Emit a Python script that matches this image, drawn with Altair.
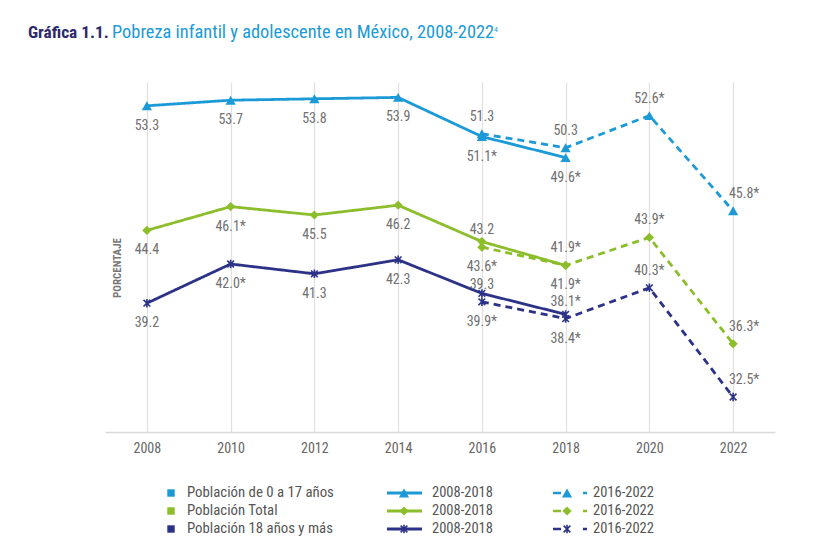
import altair as alt
import pandas as pd

# ---------------- data ----------------
years = [2008, 2010, 2012, 2014, 2016, 2018, 2020, 2022]
groups = ["Población de 0 a 17 años", "Población Total", "Población 18 años y más"]
periods = ["2008-2018", "2016-2022"]
years_old = [2008, 2010, 2012, 2014, 2016, 2018]
years_new = [2016, 2018, 2020, 2022]

child_old = [53.3, 53.7, 53.8, 53.9, 51.1, 49.6]
child_new = [51.3, 50.3, 52.6, 45.8]
total_old = [44.4, 46.1, 45.5, 46.2, 43.6, 41.9]
total_new = [43.2, 41.9, 43.9, 36.3]
adult_old = [39.2, 42.0, 41.3, 42.3, 39.9, 38.4]
adult_new = [39.3, 38.1, 40.3, 32.5]

child_old_sig = ["", "", "", "", "*", "*"]
child_new_sig = ["", "", "*", "*"]
total_old_sig = ["", "*", "", "", "*", "*"]
total_new_sig = ["", "*", "*", "*"]
adult_old_sig = ["", "*", "", "", "*", "*"]
adult_new_sig = ["", "*", "*", "*"]

old_side = ["below"] * 6
new_side = ["above", "above", "above", "aboveright"]

title_bold = "Gráfica 1.1."
title_rest = "Pobreza infantil y adolescente en México, 2008-2022"
title_sup = "4"
y_title = "PORCENTAJE"

# ---------------- styles ----------------
FONT = "Liberation Sans Narrow, Roboto Condensed, DejaVu Sans Condensed, Arial Narrow, sans-serif"
colors = ["#1b9ad7", "#8cbd2b", "#2c3287"]
label_grey = "#707070"
ASTER = "M-1,-1L1,1M-1,1L1,-1M0,-1.25L0,1.25"

series = [
    (groups[0], periods[0], years_old, child_old, child_old_sig, old_side),
    (groups[0], periods[1], years_new, child_new, child_new_sig, new_side),
    (groups[1], periods[0], years_old, total_old, total_old_sig, old_side),
    (groups[1], periods[1], years_new, total_new, total_new_sig, new_side),
    (groups[2], periods[0], years_old, adult_old, adult_old_sig, old_side),
    (groups[2], periods[1], years_new, adult_new, adult_new_sig, new_side),
]
rows = []
for g, p, ys, vs, sg, sd in series:
    for yr, v, s, side in zip(ys, vs, sg, sd):
        rows.append({"group": g, "period": p, "year": yr, "value": v,
                     "label": f"{v:.1f}{s}", "side": side})
df = pd.DataFrame(rows)
df["bottom"] = df.groupby(["group", "year"])["value"].transform("min")

color_scale = alt.Scale(domain=groups, range=colors)
dash_scale = alt.Scale(domain=periods, range=[[1, 0], [7, 5]])

x_enc = alt.X("year:O",
              scale=alt.Scale(type="point", padding=0.5, domain=years),
              axis=alt.Axis(title=None, labelFont=FONT, labelFontSize=14,
                            labelColor="#666666", labelPadding=9, tickSize=0,
                            labelAngle=0, domainColor="#d9d9d9", domainWidth=1.5,
                            grid=True, gridColor="#e0e0e0", gridWidth=1.2))
y_scale = alt.Scale(domain=[30, 55], nice=False, zero=False)

base = alt.Chart(df)

lines = base.mark_line(strokeWidth=2.8).encode(
    x=x_enc,
    y=alt.Y("value:Q", scale=y_scale, axis=None),
    color=alt.Color("group:N", scale=color_scale, legend=None),
    strokeDash=alt.StrokeDash("period:N", scale=dash_scale, legend=None),
    detail="period:N",
)

shape_scale = alt.Scale(domain=groups[:2], range=["triangle-up", "diamond"])
size_scale = alt.Scale(domain=groups[:2], range=[105, 85])

pts_filled = base.transform_filter(alt.datum.group != groups[2]).mark_point(
    filled=True, opacity=1).encode(
    x=x_enc,
    y=alt.Y("value:Q", scale=y_scale, axis=None),
    color=alt.Color("group:N", scale=color_scale, legend=None),
    shape=alt.Shape("group:N", scale=shape_scale, legend=None),
    size=alt.Size("group:N", scale=size_scale, legend=None),
)

pts_aster = base.transform_filter(alt.datum.group == groups[2]).mark_point(
    filled=False, opacity=1, size=45, strokeWidth=1.6, shape=ASTER).encode(
    x=x_enc,
    y=alt.Y("value:Q", scale=y_scale, axis=None),
    color=alt.Color("group:N", scale=color_scale, legend=None),
)

def label_layer(side, field, dy, dx=0):
    return base.transform_filter(alt.datum.side == side).mark_text(
        font=FONT, fontSize=14, color=label_grey, baseline="middle",
        align="center", dy=dy, dx=dx).encode(
        x=x_enc,
        y=alt.Y(f"{field}:Q", scale=y_scale, axis=None),
        text="label:N",
    )

lab_below = label_layer("below", "bottom", 20)
lab_above = label_layer("above", "value", -17)
lab_ar = label_layer("aboveright", "value", -17, 11)

def fixed_text(txt, x, y, **kw):
    return alt.Chart(pd.DataFrame({"t": [txt]})).mark_text(font=FONT, **kw).encode(
        text="t:N", x=alt.value(x), y=alt.value(y))

t1 = fixed_text(title_bold, -77, -44, fontSize=17.3, fontWeight="bold", color="#2d2a6e",
                align="left", baseline="alphabetic")
t2 = fixed_text(title_rest, 7, -44, fontSize=18.4, color="#1b9ad7",
                align="left", baseline="alphabetic")
t3 = fixed_text(title_sup, 389, -50, fontSize=8, color="#1b9ad7",
                align="left", baseline="alphabetic")
yt = fixed_text(y_title, 13, 186, fontSize=11, fontWeight="bold", color="#777777",
                angle=270, align="center", baseline="middle")

# ---------------- legend ----------------
leg_rows = []
for i, g in enumerate(groups):
    yy = 411 + 18 * i
    leg_rows.append({"group": g, "ly": yy})
leg = pd.DataFrame(leg_rows)
lchart = alt.Chart(leg)
ly = alt.Y("ly:Q", scale=None, axis=None)
gcol = alt.Color("group:N", scale=color_scale, legend=None)

sq = lchart.mark_square(size=55, opacity=1).encode(x=alt.value(66), y=ly, color=gcol)
sq_txt = lchart.mark_text(font=FONT, fontSize=14.8, color="#555555", align="left",
                          baseline="middle").encode(x=alt.value(82), y=ly, text="group:N")
solid_rule = lchart.mark_rule(strokeWidth=2.8).encode(
    x=alt.value(282), x2=alt.value(317), y=ly, color=gcol)
dash1 = lchart.mark_rule(strokeWidth=2.5).encode(
    x=alt.value(448), x2=alt.value(456), y=ly, color=gcol)
dash2 = lchart.mark_rule(strokeWidth=2.5).encode(
    x=alt.value(478), x2=alt.value(482), y=ly, color=gcol)

def leg_markers(xpos):
    f = lchart.transform_filter(alt.datum.group != groups[2]).mark_point(
        filled=True, opacity=1).encode(
        x=alt.value(xpos), y=ly, color=gcol,
        shape=alt.Shape("group:N", scale=shape_scale, legend=None),
        size=alt.Size("group:N", scale=size_scale, legend=None))
    a = lchart.transform_filter(alt.datum.group == groups[2]).mark_point(
        filled=False, opacity=1, size=45, strokeWidth=1.6, shape=ASTER).encode(
        x=alt.value(xpos), y=ly, color=gcol)
    return [f, a]

per_txt1 = lchart.mark_text(font=FONT, fontSize=14.5, color="#555555", align="left",
                            baseline="middle", text=periods[0]).encode(x=alt.value(327), y=ly)
per_txt2 = lchart.mark_text(font=FONT, fontSize=14.5, color="#555555", align="left",
                            baseline="middle", text=periods[1]).encode(x=alt.value(488), y=ly)

layers = [lines, pts_filled, pts_aster, lab_below, lab_above, lab_ar,
          t1, t2, t3, yt, sq, sq_txt, solid_rule, dash1, dash2]
layers += leg_markers(299) + leg_markers(462) + [per_txt1, per_txt2]

chart = alt.layer(*layers).properties(
    width=670, height=350,
    autosize=alt.AutoSizeParams(type="none"),
    padding={"left": 97, "top": 74, "right": 50, "bottom": 110},
    background="white",
).configure_view(stroke=None)

chart.save("out.html", embed_options={"renderer": "svg", "actions": False})
